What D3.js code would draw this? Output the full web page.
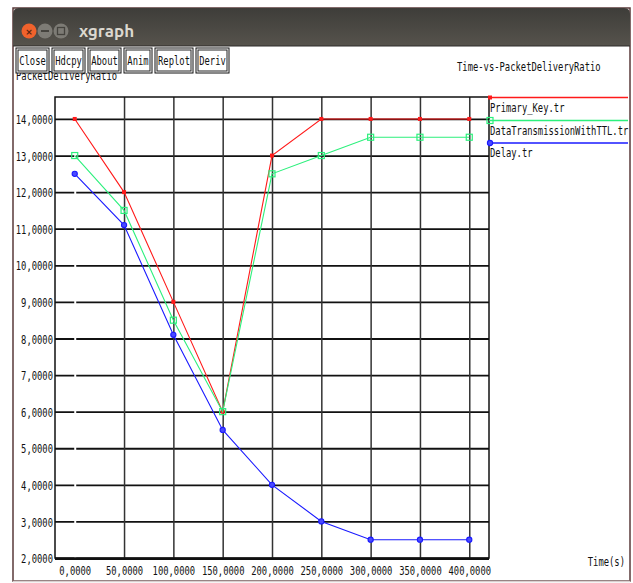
<!DOCTYPE html>
<html>
<head>
<meta charset="utf-8">
<script src="https://cdn.jsdelivr.net/npm/d3@7"></script>
<style>
  html, body { margin: 0; padding: 0; background: #ffffff; }
  svg { display: block; }
  .mono { font-family: "DejaVu Sans Mono", "Liberation Mono", monospace; font-size: 13px; fill: #111; }
</style>
</head>
<body>
<svg id="chart" width="633" height="583"></svg>
<script>
// ---- data ----
const times = [0, 50, 100, 150, 200, 250, 300, 350, 400];
const primaryKey = [14, 12, 9, 6, 13, 14, 14, 14, 14];
const dataTransmissionTTL = [13, 11.5, 8.5, 6, 12.5, 13, 13.5, 13.5, 13.5];
const delay = [12.5, 11.1, 8.1, 5.5, 4.0, 3.0, 2.5, 2.5, 2.5];
const seriesNames = ["Primary_Key.tr", "DataTransmissionWithTTL.tr", "Delay.tr"];
const xTicks = [0, 50, 100, 150, 200, 250, 300, 350, 400];
const xTickLabels = ["0,0000", "50,0000", "100,0000", "150,0000", "200,0000", "250,0000", "300,0000", "350,0000", "400,0000"];
const yTicks = [2, 3, 4, 5, 6, 7, 8, 9, 10, 11, 12, 13, 14];
const yTickLabels = ["2,0000", "3,0000", "4,0000", "5,0000", "6,0000", "7,0000", "8,0000", "9,0000", "10,0000", "11,0000", "12,0000", "13,0000", "14,0000"];
const buttonLabels = ["Close", "Hdcpy", "About", "Anim", "Replot", "Deriv"];
const chartTitle = "Time-vs-PacketDeliveryRatio";
const yTitle = "PacketDeliveryRatio";
const xTitle = "Time(s)";
const windowTitle = "xgraph";

// ---- layout / style ----
const SX = 0.68; // horizontal squeeze of the xgraph font (13px mono -> ~5.3px per char)
const svg = d3.select("#chart");
const L = 55, R = 489, T = 97, B = 558;
const x = d3.scaleLinear().domain([-20, 420]).range([L, R]);
const y = d3.scaleLinear().domain([2, 14.6]).range([B, T]);
const colors = ["#ff1a1a", "#2cf07c", "#1a1aff"];

function monoText(g, str, xx, yy, anchor) {
  return g.append("text").attr("class", "mono")
    .attr("transform", `translate(${xx},${yy}) scale(${SX},1)`)
    .attr("text-anchor", anchor || "start")
    .text(str);
}

// window frame
svg.append("rect").attr("x", 13).attr("y", 8).attr("width", 617).attr("height", 573)
  .attr("fill", "#ffffff").attr("stroke", "#5a3a3a").attr("stroke-width", 1.5);
svg.append("line").attr("x1", 13).attr("x2", 630).attr("y1", 581.5).attr("y2", 581.5)
  .attr("stroke", "#d9cfcf").attr("stroke-width", 1.5);

// title bar
const grad = svg.append("defs").append("linearGradient").attr("id", "tb")
  .attr("x1", 0).attr("y1", 0).attr("x2", 0).attr("y2", 1);
grad.append("stop").attr("offset", "0%").attr("stop-color", "#3e3d39");
grad.append("stop").attr("offset", "100%").attr("stop-color", "#56534c");
svg.append("path")
  .attr("d", "M13,46 L13,14 Q13,8 19,8 L624,8 Q630,8 630,14 L630,46 Z")
  .attr("fill", "url(#tb)");
svg.append("line").attr("x1", 13).attr("x2", 630).attr("y1", 46).attr("y2", 46)
  .attr("stroke", "#2e2d2a").attr("stroke-width", 1);
// window buttons
svg.append("circle").attr("cx", 29).attr("cy", 31).attr("r", 7.5).attr("fill", "#f0622c");
svg.append("text").attr("x", 29).attr("y", 34.5).attr("text-anchor", "middle")
  .attr("font-family", "DejaVu Sans").attr("font-size", 9).attr("font-weight", "bold")
  .attr("fill", "#5a2410").text("×");
svg.append("circle").attr("cx", 45).attr("cy", 31).attr("r", 7.5).attr("fill", "#7d7b75");
svg.append("rect").attr("x", 41).attr("y", 30).attr("width", 8).attr("height", 2).attr("fill", "#45433e");
svg.append("circle").attr("cx", 61).attr("cy", 31).attr("r", 7.5).attr("fill", "#7d7b75");
svg.append("rect").attr("x", 57.5).attr("y", 27.5).attr("width", 7).attr("height", 7)
  .attr("fill", "none").attr("stroke", "#45433e").attr("stroke-width", 1.3);
svg.append("text").attr("x", 79).attr("y", 37)
  .attr("font-family", "Ubuntu, 'DejaVu Sans Condensed', 'DejaVu Sans', sans-serif").attr("font-size", 17)
  .attr("font-weight", "bold").attr("fill", "#dcd8cf").text(windowTitle);

// y axis title (partly hidden under buttons)
monoText(svg, yTitle, 16, 80);

// buttons
const btnX = [16, 52, 88, 124, 155, 196];
const btnW = [33, 33, 33, 28, 38, 33];
buttonLabels.forEach((b, i) => {
  const g = svg.append("g");
  g.append("rect").attr("x", btnX[i]).attr("y", 48).attr("width", btnW[i]).attr("height", 25)
    .attr("fill", "#fff").attr("stroke", "#111").attr("stroke-width", 1);
  g.append("rect").attr("x", btnX[i] + 2).attr("y", 50).attr("width", btnW[i] - 4).attr("height", 21)
    .attr("fill", "#fff").attr("stroke", "#222").attr("stroke-width", 1);
  monoText(g, b, btnX[i] + btnW[i] / 2, 65, "middle");
});

// chart title
monoText(svg, chartTitle, 457, 71);

// grid via axes
const yAxis = d3.axisLeft(y).tickValues(yTicks)
  .tickFormat((d, i) => yTickLabels[i]).tickSize(-(R - L)).tickPadding(2);
const gy = svg.append("g").attr("transform", `translate(${L},0)`).call(yAxis);
gy.select(".domain").remove();
gy.selectAll("line").attr("stroke", "#111").attr("stroke-width", 1.8);
gy.selectAll("text").attr("class", "mono").attr("font-family", null).attr("font-size", null)
  .attr("x", -2 / SX).attr("dy", "0.36em")
  .attr("transform", `scale(${SX},1)`);

const xAxis = d3.axisBottom(x).tickValues(xTicks)
  .tickFormat((d, i) => xTickLabels[i]).tickSize(-(B - T)).tickPadding(8);
const gx = svg.append("g").attr("transform", `translate(0,${B})`).call(xAxis);
gx.select(".domain").remove();
gx.selectAll("line").attr("stroke", "#333").attr("stroke-width", 1.5);
gx.selectAll("line").filter(d => d === 0).attr("stroke", "#ffffff").attr("stroke-width", 2);
gx.selectAll("text").attr("class", "mono").attr("font-family", null).attr("font-size", null)
  .attr("dy", "0.71em")
  .attr("transform", `scale(${SX},1)`);

// plot border
svg.append("rect").attr("x", L).attr("y", T).attr("width", R - L).attr("height", B - T)
  .attr("fill", "none").attr("stroke", "#111").attr("stroke-width", 1.5);
svg.append("line").attr("x1", L).attr("x2", R).attr("y1", B + 1.5).attr("y2", B + 1.5)
  .attr("stroke", "#111").attr("stroke-width", 1);

// x axis title
monoText(svg, xTitle, 625, 566, "end");

// series
const series = [primaryKey, dataTransmissionTTL, delay];
const line = d3.line().x((d, i) => x(times[i])).y(d => y(d));

function marker(g, k, cx, cy) {
  if (k === 0) {
    g.append("rect").attr("x", cx - 2).attr("y", cy - 2).attr("width", 4).attr("height", 4)
      .attr("fill", colors[0]);
  } else if (k === 1) {
    g.append("rect").attr("x", cx - 3).attr("y", cy - 3).attr("width", 6).attr("height", 6)
      .attr("fill", "none").attr("stroke", colors[1]).attr("stroke-width", 1.2);
  } else {
    g.append("circle").attr("cx", cx).attr("cy", cy).attr("r", 2.6)
      .attr("fill", "#4a4aff").attr("stroke", colors[2]).attr("stroke-width", 1.1);
  }
}

series.forEach((vals, k) => {
  const g = svg.append("g");
  g.append("path").datum(vals).attr("d", line)
    .attr("fill", "none").attr("stroke", colors[k]).attr("stroke-width", 1.1);
  vals.forEach((v, i) => marker(g, k, x(times[i]), y(v)));
});

// legend
const legY = [97.5, 120.5, 143];
seriesNames.forEach((name, k) => {
  const g = svg.append("g");
  g.append("line").attr("x1", R).attr("x2", 628).attr("y1", legY[k]).attr("y2", legY[k])
    .attr("stroke", colors[k]).attr("stroke-width", 1.3);
  marker(g, k, R + 1, legY[k]);
  monoText(g, name, 490, legY[k] + 14);
});
</script>
</body>
</html>
